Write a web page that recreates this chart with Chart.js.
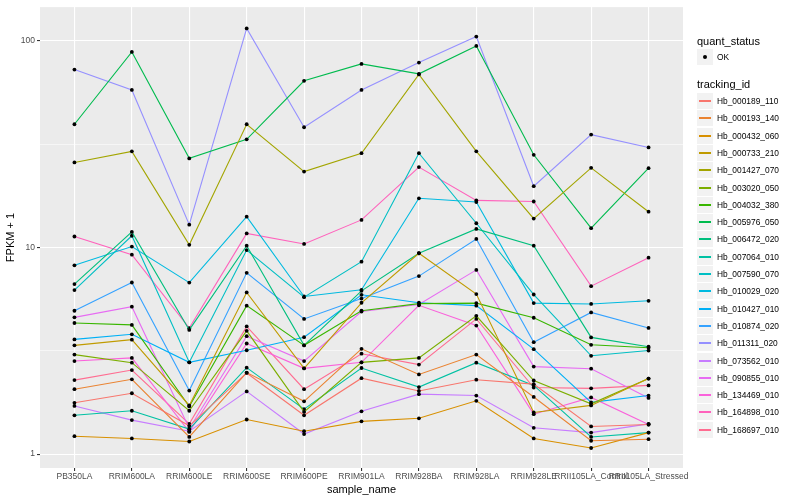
<!DOCTYPE html>
<html>
<head>
<meta charset="utf-8">
<script src="https://cdn.jsdelivr.net/npm/chart.js@4.4.1/dist/chart.umd.min.js"></script>
<style>
  body { margin: 0; background: #fff; font-family: "Liberation Sans", Arial, sans-serif; }
  #wrap { position: relative; width: 800px; height: 500px; }
  #legend { position: absolute; left: 0; top: 0; width: 800px; height: 500px; pointer-events: none; }
  .ttl { position: absolute; left: 697px; font-size: 11px; color: #000; line-height: 12px; }
  .key { position: absolute; left: 697px; width: 16px; height: 16px; background: #F2F2F2; }
  .key i { position: absolute; left: 2px; right: 2px; top: 7px; height: 1.6px; }
  .key b { position: absolute; left: 6px; top: 6px; width: 4px; height: 4px; border-radius: 2px; background: #000; }
  .lab { position: absolute; left: 717px; font-size: 8.4px; color: #000; line-height: 10px; white-space: nowrap; }
</style>
</head>
<body>
<div id="wrap">
  <canvas id="chart" width="800" height="500"></canvas>
  <div id="legend"></div>
</div>
<script>
const samples = ["PB350LA", "RRIM600LA", "RRIM600LE", "RRIM600SE", "RRIM600PE", "RRIM901LA",
  "RRIM928BA", "RRIM928LA", "RRIM928LE", "RRII105LA_Control", "RRII105LA_Stressed"];

const trackingIds = ["Hb_000189_110", "Hb_000193_140", "Hb_000432_060", "Hb_000733_210",
  "Hb_001427_070", "Hb_003020_050", "Hb_004032_380", "Hb_005976_050", "Hb_006472_020",
  "Hb_007064_010", "Hb_007590_070", "Hb_010029_020", "Hb_010427_010", "Hb_010874_020",
  "Hb_011311_020", "Hb_073562_010", "Hb_090855_010", "Hb_134469_010", "Hb_164898_010",
  "Hb_168697_010"];

const seriesColors = ["#F8766D", "#EA8331", "#D89000", "#C09B00", "#A3A500", "#7CAE00",
  "#39B600", "#00BB4E", "#00BF7D", "#00C1A3", "#00BFC4", "#00BAE0", "#00B0F6", "#35A2FF",
  "#9590FF", "#C77CFF", "#E76BF3", "#FA62DB", "#FF62BC", "#FF6C91"];

// FPKM + 1, one value per sample
const hb_000189_110 = [1.77, 1.97, 1.37, 2.47, 1.54, 2.33, 2.02, 2.29, 2.18, 1.36, 1.39];
const hb_000193_140 = [2.06, 2.30, 1.21, 2.48, 1.80, 3.23, 2.43, 3.03, 1.89, 1.16, 1.18];
const hb_000432_060 = [1.22, 1.19, 1.15, 1.47, 1.29, 1.44, 1.49, 1.81, 1.19, 1.07, 1.27];
const hb_000733_210 = [3.36, 3.58, 1.72, 6.06, 2.60, 5.40, 9.38, 5.95, 1.59, 1.72, 2.32];
const hb_001427_070 = [25.8, 29.2, 10.3, 39.5, 23.3, 28.6, 68.8, 29.2, 13.8, 24.3, 14.9];
const hb_003020_050 = [3.03, 2.77, 1.62, 3.95, 1.60, 2.78, 2.92, 4.67, 2.27, 1.75, 2.32];
const hb_004032_380 = [4.31, 4.22, 1.70, 5.23, 3.36, 4.94, 5.35, 5.38, 4.57, 3.38, 3.27];
const hb_005976_050 = [39.5, 88.5, 27.0, 33.4, 64.1, 77.4, 69.3, 94.6, 28.1, 12.4, 24.2];
const hb_006472_020 = [6.65, 11.9, 3.99, 10.2, 3.36, 6.17, 9.38, 12.3, 10.2, 3.67, 3.31];
const hb_007064_010 = [1.54, 1.62, 1.32, 2.62, 1.65, 2.61, 2.11, 2.77, 2.15, 1.21, 1.27];
const hb_007590_070 = [6.22, 11.4, 2.78, 9.72, 5.75, 8.54, 28.6, 13.1, 5.92, 2.99, 3.17];
const hb_010029_020 = [8.2, 10.1, 6.76, 14.1, 5.79, 6.24, 17.3, 16.6, 5.38, 5.33, 5.52];
const hb_010427_010 = [3.59, 3.80, 2.78, 3.18, 3.68, 5.9, 5.4, 5.23, 3.22, 1.78, 1.92];
const hb_010874_020 = [4.94, 6.77, 2.03, 7.54, 4.51, 5.66, 7.27, 11.0, 3.48, 4.85, 4.08];
const hb_011311_020 = [72.7, 57.9, 12.9, 115, 38.2, 57.9, 78.6, 105, 19.8, 35.2, 30.5];
const hb_073562_010 = [1.71, 1.46, 1.29, 2.01, 1.25, 1.61, 1.95, 1.92, 1.34, 1.27, 1.40];
const hb_090855_010 = [4.59, 5.17, 1.33, 3.72, 2.82, 4.90, 5.30, 7.79, 2.65, 2.59, 1.87];
const hb_134469_010 = [2.82, 2.92, 1.28, 3.43, 2.60, 2.78, 5.25, 4.19, 1.56, 1.88, 1.39];
const hb_164898_010 = [11.3, 9.23, 4.07, 11.7, 10.4, 13.6, 24.5, 16.9, 16.7, 6.5, 8.93];
const hb_168697_010 = [2.28, 2.55, 1.40, 4.15, 2.06, 3.06, 2.71, 4.51, 2.10, 2.08, 2.15];

const seriesValues = [hb_000189_110, hb_000193_140, hb_000432_060, hb_000733_210,
  hb_001427_070, hb_003020_050, hb_004032_380, hb_005976_050, hb_006472_020,
  hb_007064_010, hb_007590_070, hb_010029_020, hb_010427_010, hb_010874_020,
  hb_011311_020, hb_073562_010, hb_090855_010, hb_134469_010, hb_164898_010,
  hb_168697_010];

const yMajor = [1, 10, 100];
const yGrid = [1, Math.sqrt(10), 10, Math.sqrt(1000), 100];

const isMajor = (v) => yMajor.some((m) => Math.abs(m - v) < 1e-9);

const panelBg = {
  id: "panelBg",
  beforeDraw(chart) {
    const { ctx, chartArea } = chart;
    ctx.save();
    ctx.fillStyle = "#EBEBEB";
    ctx.fillRect(chartArea.left, chartArea.top, chartArea.right - chartArea.left, chartArea.bottom - chartArea.top);
    ctx.restore();
  },
};

const datasets = seriesValues.map((vals, k) => ({
  label: trackingIds[k],
  data: vals.map((v, i) => ({ x: i, y: v })),
  borderColor: seriesColors[k],
  backgroundColor: seriesColors[k],
  borderWidth: 1.1,
  pointRadius: 1.9,
  pointBackgroundColor: "#000",
  pointBorderWidth: 0,
  tension: 0,
}));

new Chart(document.getElementById("chart"), {
  type: "line",
  data: { datasets: datasets },
  plugins: [panelBg],
  options: {
    responsive: false,
    animation: false,
    layout: { padding: { top: 5, right: 117, bottom: 0, left: 0 } },
    plugins: { legend: { display: false }, tooltip: { enabled: false } },
    scales: {
      x: {
        type: "linear",
        min: -0.6,
        max: 10.6,
        afterBuildTicks: (scale) => { scale.ticks = samples.map((s, i) => ({ value: i })); },
        afterFit: (scale) => { scale.height = 32; },
        ticks: {
          autoSkip: false,
          maxRotation: 0,
          padding: 1,
          color: "#4D4D4D",
          font: { family: "Liberation Sans", size: 8.5 },
          callback: (v) => samples[v],
        },
        grid: { color: "#FFFFFF", lineWidth: 1.1, tickColor: "#333333", tickLength: 3 },
        border: { display: false },
        title: {
          display: true, text: "sample_name", color: "#000",
          font: { family: "Liberation Sans", size: 11 }, padding: { top: 0, bottom: 3 },
        },
      },
      y: {
        type: "logarithmic",
        min: 0.856,
        max: 145.8,
        afterBuildTicks: (scale) => { scale.ticks = yGrid.map((v) => ({ value: v })); },
        afterFit: (scale) => { scale.width = 40; },
        ticks: {
          padding: 2,
          color: "#4D4D4D",
          font: { family: "Liberation Sans", size: 8.5 },
          callback: (v) => (isMajor(v) ? String(Math.round(v)) : ""),
        },
        grid: {
          color: "#FFFFFF",
          lineWidth: (c) => (c.tick && isMajor(c.tick.value) ? 1.1 : 0.55),
          tickColor: (c) => (c.tick && isMajor(c.tick.value) ? "#333333" : "rgba(0,0,0,0)"),
          tickLength: 3,
        },
        border: { display: false },
        title: {
          display: true, text: "FPKM + 1", color: "#000",
          font: { family: "Liberation Sans", size: 11 }, padding: { top: 4, bottom: 0 },
        },
      },
    },
  },
});

// ggplot-style legend on the right
const legend = document.getElementById("legend");
function add(cls, top, html) {
  const d = document.createElement("div");
  d.className = cls;
  d.style.top = top + "px";
  d.innerHTML = html;
  legend.appendChild(d);
  return d;
}
add("ttl", 34.5, "quant_status");
add("key", 49, "<b></b>");
add("lab", 52, "OK");
add("ttl", 78, "tracking_id");
trackingIds.forEach((id, k) => {
  const y = Math.round(93 + k * 17.3);
  const key = add("key", y, "<i></i>");
  key.firstChild.style.background = seriesColors[k];
  add("lab", y + 3, id);
});
</script>
</body>
</html>
